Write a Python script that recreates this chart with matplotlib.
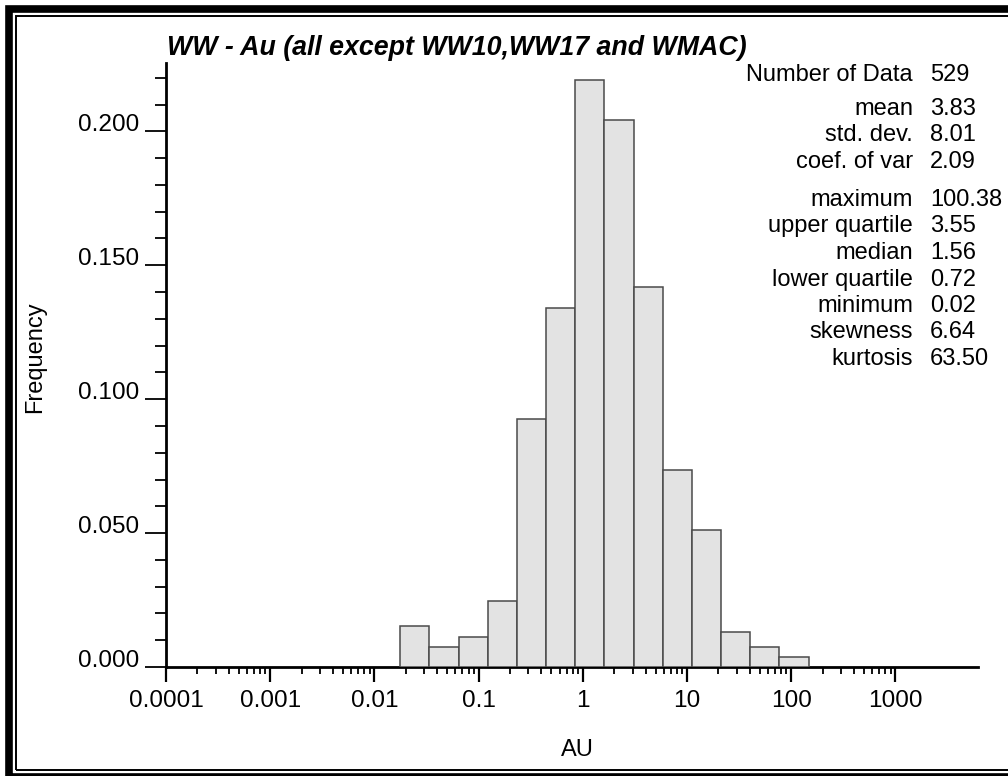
import numpy as np
import matplotlib
matplotlib.use('Agg')
import matplotlib.pyplot as plt
import matplotlib.patches as patches
from matplotlib.ticker import FixedLocator, FixedFormatter, MultipleLocator, NullFormatter

plt.rcParams['font.family'] = ['Liberation Sans', 'DejaVu Sans']

# 直方图数据：对数等宽分箱，log10 区间端点及各箱计数
bin_log_lo = -1.752
bin_log_hi = 2.167
counts = [8, 4, 6, 13, 49, 71, 116, 108, 75, 39, 27, 7, 4, 2]
n_data = 529

# 统计量
stat_names = ['Number of Data', 'mean', 'std. dev.', 'coef. of var',
              'maximum', 'upper quartile', 'median', 'lower quartile',
              'minimum', 'skewness', 'kurtosis']
stat_values = ['529', '3.83', '8.01', '2.09',
               '100.38', '3.55', '1.56', '0.72',
               '0.02', '6.64', '63.50']

x_tick_values = [1e-4, 1e-3, 1e-2, 1e-1, 1, 10, 100, 1000]
x_tick_labels = ['0.0001', '0.001', '0.01', '0.1', '1', '10', '100', '1000']

title = 'WW - Au (all except WW10,WW17 and WMAC)'

W, H = 1008, 776


def fx(px):
    return px / W


def fy(py):
    return 1 - py / H


fig = plt.figure(figsize=(W / 100, H / 100), dpi=100)
ax = fig.add_axes([fx(166), fy(667), fx(978) - fx(166), fy(63) - fy(667)])

edges = np.logspace(bin_log_lo, bin_log_hi, len(counts) + 1)
freq = np.array(counts) / n_data
ax.bar(edges[:-1], freq, width=np.diff(edges), align='edge',
       color='#e3e3e3', edgecolor='#4a4a4a', linewidth=1.1, zorder=3)

ax.set_xscale('log')
ax.set_xlim(1e-4, 6200)
ax.set_ylim(0, 0.2255)

# 次刻度只画到 1000 为止
minor_x = [m * d for d in x_tick_values[:-1] for m in range(2, 10)]
ax.xaxis.set_major_locator(FixedLocator(x_tick_values))
ax.xaxis.set_major_formatter(FixedFormatter(x_tick_labels))
ax.xaxis.set_minor_locator(FixedLocator(minor_x))
ax.xaxis.set_minor_formatter(NullFormatter())

ax.yaxis.set_major_locator(MultipleLocator(0.05))
ax.yaxis.set_minor_locator(MultipleLocator(0.01))
ax.yaxis.set_major_formatter(plt.FuncFormatter(lambda v, p: f'{v:.3f}'))

for s in ['top', 'right']:
    ax.spines[s].set_visible(False)
for s in ['left', 'bottom']:
    ax.spines[s].set_linewidth(2.0)

ax.tick_params(axis='y', which='major', length=15, width=1.3, pad=4, labelsize=17.6)
ax.tick_params(axis='y', which='minor', length=8, width=1.3)
ax.tick_params(axis='x', which='major', length=11, width=1.6, pad=5.5, labelsize=17.6)
ax.tick_params(axis='x', which='minor', length=5, width=1.3)
plt.setp(ax.get_yticklabels(), va='baseline')

# 标题、坐标轴标签
fig.text(fx(167), fy(55), title, fontsize=19.3, fontweight='bold',
         fontstyle='italic', ha='left', va='baseline')
fig.text(fx(35), fy(357), 'Frequency', fontsize=17, rotation=90,
         ha='center', va='center')
fig.text(fx(577), fy(750), 'AU', fontsize=17, ha='center', va='center')

# 统计信息
stat_rows = [81, 115, 141, 168, 206, 232, 259, 286, 312, 338, 365]
for name, val, yb in zip(stat_names, stat_values, stat_rows):
    fig.text(fx(913), fy(yb), name, fontsize=17, ha='right', va='baseline')
    fig.text(fx(930), fy(yb), val, fontsize=17, ha='left', va='baseline')

# 双线边框
outer = patches.Rectangle((fx(8.85), fy(776.5)), fx(1020) - fx(8.85), fy(8.85) - fy(776.5),
                          transform=fig.transFigure, fill=False, edgecolor='black',
                          linewidth=5.5, clip_on=False)
inner = patches.Rectangle((fx(16), fy(770)), fx(1015) - fx(16), fy(16) - fy(770),
                          transform=fig.transFigure, fill=False, edgecolor='black',
                          linewidth=1.4, clip_on=False)
fig.patches.extend([outer, inner])

fig.savefig('out.png', dpi=100)
